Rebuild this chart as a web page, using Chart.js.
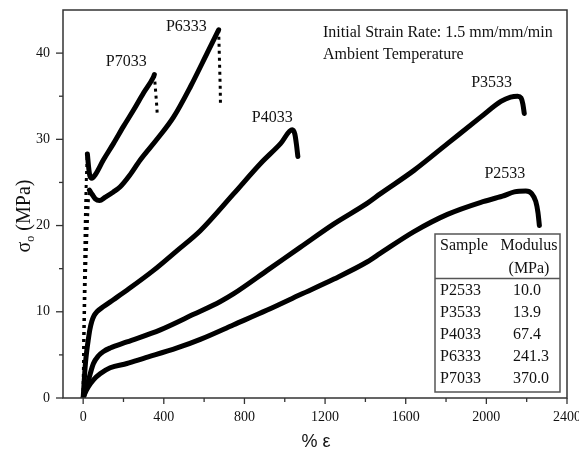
<!DOCTYPE html>
<html>
<head>
<meta charset="utf-8">
<script src="https://cdn.jsdelivr.net/npm/chart.js@4.4.1/dist/chart.umd.min.js"></script>
<style>
  html, body { margin: 0; padding: 0; background: #fff; }
  canvas { display: block; }
</style>
</head>
<body>
<canvas id="stressChart" width="579" height="455"></canvas>
<script>
// strain (%) and stress (MPa)
const p2533X = [0, 10, 26, 51, 84, 134, 217, 300, 466, 581, 747, 913, 1078, 1244, 1410, 1475, 1641, 1807, 1973, 2080, 2139, 2196, 2225, 2245, 2256, 2263];
const p2533Y = [0, 0.6, 1.3, 2.1, 2.8, 3.5, 4.0, 4.6, 5.8, 6.8, 8.5, 10.2, 12.0, 13.8, 15.8, 16.8, 19.3, 21.3, 22.7, 23.4, 23.9, 24.0, 23.7, 22.8, 21.5, 20.0];

const p3533X = [0, 8, 18, 35, 51, 76, 101, 134, 217, 383, 548, 681, 747, 913, 1078, 1244, 1410, 1475, 1641, 1807, 1973, 2072, 2120, 2155, 2172, 2181, 2188];
const p3533Y = [0, 0.6, 1.3, 2.8, 4.0, 4.9, 5.4, 5.8, 6.5, 7.9, 9.7, 11.2, 12.1, 14.8, 17.5, 20.2, 22.6, 23.7, 26.4, 29.5, 32.6, 34.4, 34.9, 35.0, 34.8, 34.1, 33.0];

const p4033X = [0, 4, 8, 12, 18, 25, 33, 43, 55, 68, 101, 150, 217, 349, 466, 581, 747, 880, 979, 1037, 1050, 1058, 1065];
const p4033Y = [0, 1.5, 3.0, 4.2, 5.5, 6.7, 7.9, 8.9, 9.6, 10.0, 10.6, 11.4, 12.5, 14.8, 17.1, 19.4, 23.7, 27.2, 29.5, 31.1, 30.6, 29.4, 28.0];

const p6333RiseX = [0, 2, 4, 7, 10, 14, 18, 22, 26, 31];
const p6333RiseY = [0, 4, 7, 10, 13, 16, 18.5, 21, 23, 24.1];
const p6333X = [31, 45, 60, 81, 110, 150, 184, 230, 283, 366, 449, 532, 615, 672];
const p6333Y = [24.1, 23.6, 23.1, 22.9, 23.3, 23.9, 24.5, 25.8, 27.6, 30.0, 32.6, 36.1, 40.0, 42.7];
const p6333DropX = [672, 674, 676, 678, 680, 681];
const p6333DropY = [42.7, 41.0, 39.3, 37.6, 35.8, 34.2];

const p7033RiseX = [0, 2, 4, 6, 8, 10, 13, 16, 19, 21];
const p7033RiseY = [0, 5, 9, 13, 16.5, 20, 23, 25.5, 27.5, 28.3];
const p7033X = [21, 27, 33, 43, 60, 100, 150, 200, 250, 300, 348, 353];
const p7033Y = [28.3, 26.8, 25.8, 25.5, 25.9, 27.6, 29.5, 31.5, 33.4, 35.4, 37.2, 37.5];
const p7033DropX = [353, 356, 359, 362, 365, 367];
const p7033DropY = [37.5, 36.6, 35.7, 34.8, 33.9, 33.1];

const xTicks = [0, 200, 400, 600, 800, 1000, 1200, 1400, 1600, 1800, 2000, 2200, 2400];
const yTicks = [0, 5, 10, 15, 20, 25, 30, 35, 40];

const samples = ['P2533', 'P3533', 'P4033', 'P6333', 'P7033'];
const moduli = ['10.0', '13.9', '67.4', '241.3', '370.0'];

// curve label anchors in data units
const labelX = [2092, 2026, 938, 512, 214];
const labelY = [26.0, 36.5, 32.5, 43.1, 39.0];

const serif = "'Liberation Serif', 'Times New Roman', serif";
Chart.defaults.font.family = serif;
Chart.defaults.color = '#111';

const toPoints = (xs, ys) => xs.map((x, i) => ({ x: x, y: ys[i] }));

const solid = (label, xs, ys) => ({
    label: label,
    data: toPoints(xs, ys),
    borderColor: '#000',
    borderWidth: 5,
    pointRadius: 0,
    showLine: true,
    fill: false,
    cubicInterpolationMode: 'monotone',
    borderCapStyle: 'round',
    borderJoinStyle: 'round'
});

const dotted = (label, xs, ys) => ({
    label: label,
    data: toPoints(xs, ys),
    borderColor: '#000',
    borderWidth: 3,
    borderDash: [3, 4],
    pointRadius: 0,
    showLine: true,
    fill: false,
    borderCapStyle: 'butt'
});

const decor = {
    id: 'decor',
    afterDraw(chart) {
        const ctx = chart.ctx;
        const area = chart.chartArea;
        const xs = chart.scales.x;
        const ys = chart.scales.y;
        ctx.save();

        // frame
        ctx.strokeStyle = '#333';
        ctx.lineWidth = 1.5;
        ctx.strokeRect(area.left, area.top, area.right - area.left, area.bottom - area.top);

        // tick marks
        ctx.lineWidth = 1.3;
        xTicks.forEach(v => {
            const px = xs.getPixelForValue(v);
            const len = v % 400 === 0 ? 6 : 4;
            ctx.beginPath();
            ctx.moveTo(px, area.bottom);
            ctx.lineTo(px, area.bottom + len);
            ctx.stroke();
        });
        yTicks.forEach(v => {
            const py = ys.getPixelForValue(v);
            const len = v % 10 === 0 ? 7 : 4;
            ctx.beginPath();
            ctx.moveTo(area.left, py);
            ctx.lineTo(area.left - len, py);
            ctx.stroke();
        });

        // curve labels
        ctx.fillStyle = '#111';
        ctx.font = '16px ' + serif;
        ctx.textAlign = 'center';
        ctx.textBaseline = 'middle';
        samples.forEach((s, i) => {
            ctx.fillText(s, xs.getPixelForValue(labelX[i]), ys.getPixelForValue(labelY[i]));
        });

        // test conditions
        ctx.textAlign = 'left';
        ctx.fillText('Initial Strain Rate: 1.5 mm/mm/min', 323, 33);
        ctx.fillText('Ambient Temperature', 323, 55);

        // modulus table
        ctx.fillStyle = '#fff';
        ctx.fillRect(435, 234, 125, 158);
        ctx.strokeStyle = '#555';
        ctx.lineWidth = 1.5;
        ctx.strokeRect(435, 234, 125, 158);
        ctx.beginPath();
        ctx.moveTo(435, 278.5);
        ctx.lineTo(560, 278.5);
        ctx.stroke();
        ctx.fillStyle = '#111';
        ctx.fillText('Sample', 440, 246);
        ctx.textAlign = 'center';
        ctx.fillText('Modulus', 529, 246);
        ctx.fillText('(MPa)', 529, 269);
        const rowY = [291, 313, 335, 357, 379];
        samples.forEach((s, i) => {
            ctx.textAlign = 'left';
            ctx.fillText(s, 440, rowY[i]);
            ctx.fillText(moduli[i], 513, rowY[i]);
        });

        // x axis title
        ctx.font = "18px 'Liberation Sans', Arial, sans-serif";
        ctx.textAlign = 'center';
        ctx.fillText('% \u03b5', 316, 442);

        // y axis title with subscript
        ctx.translate(23, 216);
        ctx.rotate(-Math.PI / 2);
        const big = '20px ' + serif;
        const small = '12px ' + serif;
        ctx.font = big;
        const wSig = ctx.measureText('\u03c3').width;
        const wRest = ctx.measureText(' (MPa)').width;
        ctx.font = small;
        const wSub = ctx.measureText('o').width;
        let x0 = -(wSig + wSub + wRest) / 2;
        ctx.textAlign = 'left';
        ctx.textBaseline = 'alphabetic';
        ctx.font = big;
        ctx.fillText('\u03c3', x0, 7);
        ctx.font = small;
        ctx.fillText('o', x0 + wSig, 11);
        ctx.font = big;
        ctx.fillText(' (MPa)', x0 + wSig + wSub, 7);

        ctx.restore();
    }
};

new Chart(document.getElementById('stressChart'), {
    type: 'scatter',
    data: {
        datasets: [
            solid('P2533', p2533X, p2533Y),
            solid('P3533', p3533X, p3533Y),
            solid('P4033', p4033X, p4033Y),
            dotted('P6333 rise', p6333RiseX, p6333RiseY),
            solid('P6333', p6333X, p6333Y),
            dotted('P6333 drop', p6333DropX, p6333DropY),
            dotted('P7033 rise', p7033RiseX, p7033RiseY),
            solid('P7033', p7033X, p7033Y),
            dotted('P7033 drop', p7033DropX, p7033DropY)
        ]
    },
    options: {
        responsive: false,
        devicePixelRatio: 1,
        animation: false,
        layout: { padding: { top: 10, right: 12, left: 0, bottom: 0 } },
        plugins: {
            legend: { display: false },
            tooltip: { enabled: false }
        },
        scales: {
            x: {
                type: 'linear',
                min: -100,
                max: 2400,
                afterBuildTicks: scale => { scale.ticks = xTicks.map(v => ({ value: v })); },
                afterFit: scale => {
                    scale.height = 57;
                    scale.paddingLeft = 0;
                    scale.paddingRight = 0;
                },
                ticks: {
                    autoSkip: false,
                    maxRotation: 0,
                    padding: 5,
                    font: { size: 14 },
                    callback: v => (v % 400 === 0 ? String(v) : '')
                },
                grid: { display: true, drawOnChartArea: false, tickLength: 6, color: 'transparent' },
                border: { display: false }
            },
            y: {
                type: 'linear',
                min: 0,
                max: 45,
                afterBuildTicks: scale => { scale.ticks = yTicks.map(v => ({ value: v })); },
                afterFit: scale => {
                    scale.width = 63;
                    scale.paddingTop = 0;
                    scale.paddingBottom = 0;
                },
                ticks: {
                    autoSkip: false,
                    padding: 7,
                    font: { size: 14 },
                    callback: v => (v % 10 === 0 ? String(v) : '')
                },
                grid: { display: true, drawOnChartArea: false, tickLength: 6, color: 'transparent' },
                border: { display: false }
            }
        }
    },
    plugins: [decor]
});
</script>
</body>
</html>
